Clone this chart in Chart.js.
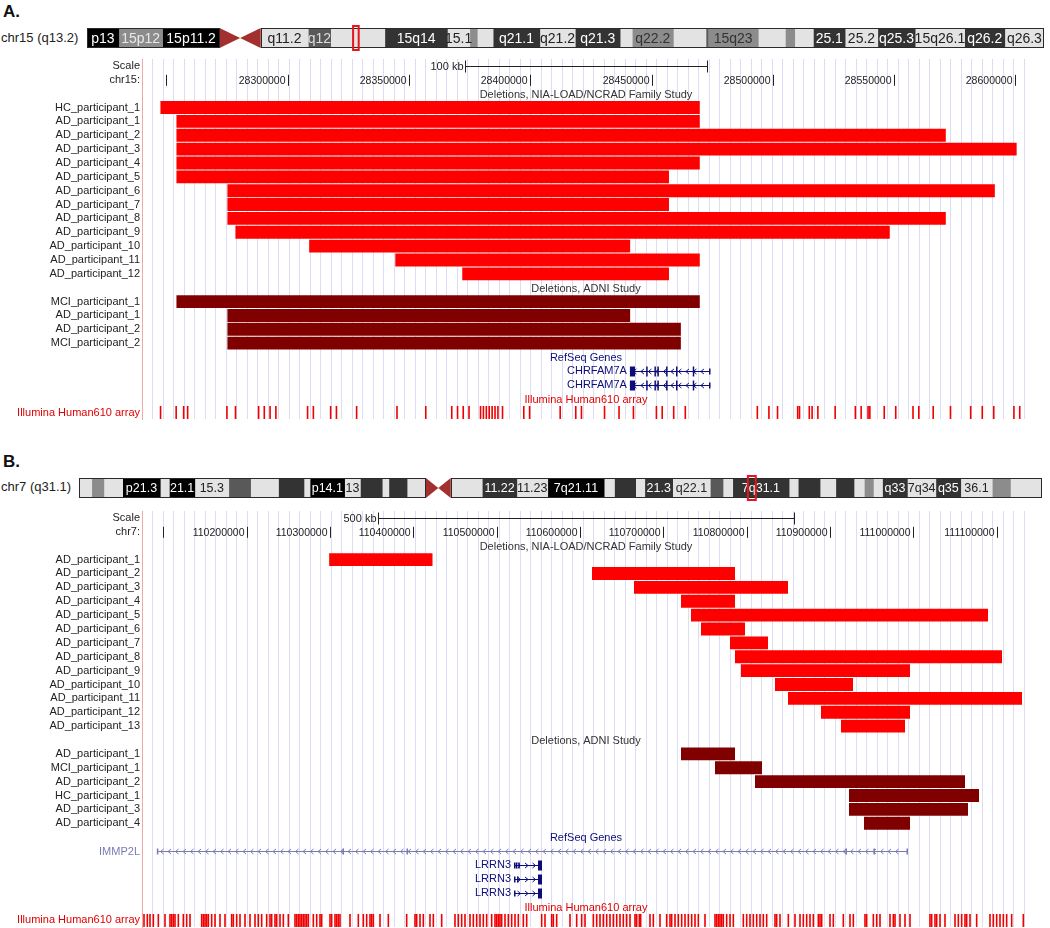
<!DOCTYPE html>
<html>
<head>
<meta charset="utf-8">
<title>Deletions at 15q13.2 and 7q31.1</title>
<script src="https://cdn.jsdelivr.net/npm/chart.js@4.4.1/dist/chart.umd.min.js"></script>
<style>
  html, body { margin: 0; padding: 0; background: #fff; }
  body { position: relative; width: 1050px; height: 928px; overflow: hidden; font-family: "Liberation Sans", Arial, sans-serif; color: #111; }
  .tag { position: absolute; left: 3px; font-weight: bold; font-size: 17px; line-height: 17px; }
  .chrom { position: absolute; left: 1px; font-size: 13px; line-height: 14px; color: #222; }
  canvas { position: absolute; left: 0; }
</style>
</head>
<body>
<div class="tag" style="top:3px">A.</div>
<div class="chrom" style="top:31px">chr15 (q13.2)</div>
<canvas id="ideoA" width="1050" height="30" style="top:24px"></canvas>
<canvas id="trackA" width="1050" height="380" style="top:48px"></canvas>

<div class="tag" style="top:453px">B.</div>
<div class="chrom" style="top:480px">chr7 (q31.1)</div>
<canvas id="ideoB" width="1050" height="30" style="top:474px"></canvas>
<canvas id="trackB" width="1050" height="436" style="top:500px"></canvas>

<script>
const FONT = '"Liberation Sans", Arial, sans-serif';

const familyTitle = 'Deletions, NIA-LOAD/NCRAD Family Study';
const adniTitle = 'Deletions, ADNI Study';
const geneTitle = 'RefSeq Genes';
const probeTitle = 'Illumina Human610 array';

// ---------- panel A : chr15 ----------
// ideogram bands in Mb: start, end, name, stain
const chr15Bands = [
  [0, 3.4, 'p13', 'gpos100'], [3.4, 8.1, '15p12', 'stalk'], [8.1, 14.2, '15p11.2', 'gpos100'],
  [14.2, 18.6, '', 'acen'], [18.6, 23.7, 'q11.2', 'gneg'], [23.7, 26.1, 'q12', 'gpos50'],
  [26.1, 31.9, '', 'gneg'], [31.9, 38.6, '15q14', 'gpos75'], [38.6, 41.0, '15.1', 'gneg'],
  [41.0, 41.8, '', 'gpos25'], [41.8, 43.5, '', 'gneg'], [43.5, 48.5, 'q21.1', 'gpos75'],
  [48.5, 52.3, 'q21.2', 'gneg'], [52.3, 57.1, 'q21.3', 'gpos75'], [57.1, 58.4, '', 'gneg'],
  [58.4, 62.8, 'q22.2', 'gpos25'], [62.8, 66.3, '', 'gneg'], [66.3, 66.5, '', 'gpos50'],
  [66.5, 71.9, '15q23', 'gpos25'], [71.9, 74.8, '', 'gneg'], [74.8, 75.8, '', 'gpos25'],
  [75.8, 77.8, '', 'gneg'], [77.8, 81.2, '25.1', 'gpos75'], [81.2, 84.7, '25.2', 'gneg'],
  [84.7, 88.7, 'q25.3', 'gpos75'], [88.7, 94.0, '15q26.1', 'gneg'], [94.0, 98.3, 'q26.2', 'gpos75'],
  [98.3, 102.5, 'q26.3', 'gneg']
];
const chr15Length = 102.5;
const chr15Mark = [28.5, 29.1];

const chr15View = [28240000, 28606000];
const chr15Ruler = [28250000, 28300000, 28350000, 28400000, 28450000, 28500000, 28550000, 28600000];
const chr15ScaleKb = 100;

const chr15FamNames = ['HC_participant_1', 'AD_participant_1', 'AD_participant_2', 'AD_participant_3',
  'AD_participant_4', 'AD_participant_5', 'AD_participant_6', 'AD_participant_7', 'AD_participant_8',
  'AD_participant_9', 'AD_participant_10', 'AD_participant_11', 'AD_participant_12'];
const chr15FamStart = [28247600, 28254200, 28254200, 28254200, 28254200, 28254200, 28275200, 28275200,
  28275200, 28278500, 28308900, 28344400, 28372000];
const chr15FamEnd = [28469900, 28469900, 28571300, 28600500, 28469900, 28457200, 28591500, 28457200,
  28571300, 28548200, 28441200, 28469900, 28457200];

const chr15AdniNames = ['MCI_participant_1', 'AD_participant_1', 'AD_participant_2', 'MCI_participant_2'];
const chr15AdniStart = [28254200, 28275200, 28275200, 28275200];
const chr15AdniEnd = [28469900, 28441200, 28462100, 28462100];

const chr15Genes = [
  { name: 'CHRFAM7A', strand: '-', status: 'reviewed', txStart: 28441100, txEnd: 28474100, thick: [28441100, 28467500],
    exons: [[28441100, 28443200], [28447800, 28448300], [28451200, 28451700], [28452400, 28452900],
            [28456000, 28456500], [28460100, 28460600], [28467000, 28467500], [28473700, 28474100]] },
  { name: 'CHRFAM7A', strand: '-', status: 'reviewed', txStart: 28441100, txEnd: 28474100, thick: [28441100, 28467500],
    exons: [[28441100, 28443200], [28447800, 28448300], [28451200, 28451700], [28452400, 28452900],
            [28456000, 28456500], [28460100, 28460600], [28467000, 28467500], [28473700, 28474100]] }
];

const chr15Probes = [28247650, 28254080, 28257170, 28258810, 28275000, 28278540, 28288060, 28290400,
  28292790, 28295180, 28308240, 28310630, 28317750, 28320140, 28328460, 28345100, 28356960, 28367670,
  28370060, 28372400, 28374790, 28379530, 28380720, 28381920, 28383110, 28384310, 28385500, 28386700,
  28388590, 28397360, 28399750, 28412360, 28418780, 28421130, 28430640, 28436610, 28442550, 28452020,
  28454410, 28459140, 28463920, 28493620, 28498390, 28501940, 28510250, 28511000, 28515030, 28516190,
  28518570, 28525700, 28534020, 28536410, 28539250, 28539990, 28545920, 28550660, 28557780, 28560170,
  28566100, 28573230, 28581550, 28586330, 28591060, 28599380, 28601770];

// ---------- panel B : chr7 ----------
const chr7Bands = [
  [0, 2.1, '', 'gneg'], [2.1, 4.1, '', 'gpos25'], [4.1, 7.2, '', 'gneg'], [7.2, 13.4, 'p21.3', 'gpos100'],
  [13.4, 14.9, '', 'gneg'], [14.9, 19.1, '21.1', 'gpos100'], [19.1, 24.7, '15.3', 'gneg'],
  [24.7, 28.3, '', 'gpos50'], [28.3, 32.9, '', 'gneg'], [32.9, 37.1, '', 'gpos75'], [37.1, 38.1, '', 'gneg'],
  [38.1, 43.8, 'p14.1', 'gpos100'], [43.8, 46.4, '13', 'gneg'], [46.4, 50.0, '', 'gpos75'],
  [50.0, 51.1, '', 'gneg'], [51.1, 54.1, '', 'gpos75'], [54.1, 57.2, '', 'gneg'], [57.2, 61.3, '', 'acen'],
  [61.3, 66.5, '', 'gneg'], [66.5, 72.2, '11.22', 'gpos75'], [72.2, 77.3, '11.23', 'gneg'],
  [77.3, 86.6, '7q21.11', 'gpos100'], [86.6, 88.3, '', 'gneg'], [88.3, 91.8, '', 'gpos75'],
  [91.8, 93.3, '', 'gneg'], [93.3, 97.9, '21.3', 'gpos75'], [97.9, 104.1, 'q22.1', 'gneg'],
  [104.1, 106.2, '', 'gpos50'], [106.2, 107.8, '', 'gneg'], [107.8, 117.1, '7q31.1', 'gpos75'],
  [117.1, 118.6, '', 'gneg'], [118.6, 122.2, '', 'gpos75'], [122.2, 124.8, '', 'gneg'],
  [124.8, 127.8, '', 'gpos75'], [127.8, 129.5, '', 'gneg'], [129.5, 131.0, '', 'gpos25'],
  [131.0, 132.5, '', 'gneg'], [132.5, 136.6, 'q33', 'gpos75'], [136.6, 141.3, '7q34', 'gneg'],
  [141.3, 145.4, 'q35', 'gpos75'], [145.4, 150.6, '36.1', 'gneg'], [150.6, 153.6, '', 'gpos25'],
  [153.6, 158.8, '', 'gneg']
];
const chr7Length = 158.8;
const chr7Mark = [110.3, 111.6];

const chr7View = [110074400, 111140000];
const chr7Ruler = [110100000, 110200000, 110300000, 110400000, 110500000, 110600000, 110700000,
  110800000, 110900000, 111000000, 111100000];
const chr7ScaleKb = 500;

const chr7FamNames = ['AD_participant_1', 'AD_participant_2', 'AD_participant_3', 'AD_participant_4',
  'AD_participant_5', 'AD_participant_6', 'AD_participant_7', 'AD_participant_8', 'AD_participant_9',
  'AD_participant_10', 'AD_participant_11', 'AD_participant_12', 'AD_participant_13'];
const chr7FamStart = [110299000, 110614400, 110664800, 110721200, 110733200, 110745200, 110780000,
  110786000, 110793200, 110834000, 110849600, 110889200, 110913200];
const chr7FamEnd = [110423000, 110786000, 110849600, 110786000, 111089600, 110798000, 110825600,
  111106400, 110996000, 110927600, 111130400, 110996000, 110990000];

const chr7AdniNames = ['AD_participant_1', 'MCI_participant_1', 'AD_participant_2', 'HC_participant_1',
  'AD_participant_3', 'AD_participant_4'];
const chr7AdniStart = [110721200, 110762000, 110810000, 110922800, 110922800, 110940800];
const chr7AdniEnd = [110786000, 110818400, 111062000, 111078800, 111065600, 110996000];

const chr7Genes = [
  { name: 'IMMP2L', strand: '-', status: 'predicted', txStart: 110092400, txEnd: 110992400, thick: [110092400, 110992400],
    exons: [[110092200, 110093000], [110315000, 110316200], [110391800, 110393000], [110918600, 110919800],
            [110952200, 110953400], [110991800, 110992400]] },
  { name: 'LRRN3', strand: '+', status: 'reviewed', txStart: 110520800, txEnd: 110554400, thick: [110549600, 110554400],
    exons: [[110520800, 110521300], [110523000, 110523500], [110526000, 110526400], [110549600, 110554400]] },
  { name: 'LRRN3', strand: '+', status: 'reviewed', txStart: 110520800, txEnd: 110554400, thick: [110549600, 110554400],
    exons: [[110520800, 110521300], [110524500, 110525000], [110549600, 110554400]] },
  { name: 'LRRN3', strand: '+', status: 'reviewed', txStart: 110520800, txEnd: 110554400, thick: [110549600, 110554400],
    exons: [[110520800, 110521300], [110549600, 110554400]] }
];

const chr7Probes = [110076800, 110080800, 110084000, 110088000, 110094000, 110102000, 110108000, 110110000,
  110112000, 110114000, 110118000, 110124000, 110128000, 110132000, 110146000, 110148000, 110150000,
  110152000, 110154000, 110158000, 110162000, 110168000, 110174000, 110182000, 110184000, 110188000,
  110192000, 110198000, 110204000, 110210000, 110214000, 110218000, 110224000, 110228000, 110230000,
  110234000, 110236000, 110240000, 110244000, 110250000, 110258000, 110260000, 110262000, 110264000,
  110266000, 110268000, 110270000, 110272000, 110274000, 110280000, 110284000, 110288000, 110290000,
  110300000, 110302000, 110306000, 110308000, 110310000, 110312000, 110324000, 110334000, 110340000,
  110344000, 110348000, 110350000, 110352000, 110360000, 110370000, 110392000, 110402000, 110404000,
  110408000, 110412000, 110420000, 110424000, 110434000, 110450000, 110454000, 110458000, 110462000,
  110468000, 110472000, 110476000, 110480000, 110484000, 110488000, 110494000, 110498000, 110500000,
  110502000, 110504000, 110506000, 110510000, 110514000, 110518000, 110522000, 110526000, 110532000,
  110536000, 110554000, 110558000, 110566000, 110568000, 110572000, 110588000, 110596000, 110602000,
  110606000, 110616000, 110620000, 110624000, 110628000, 110632000, 110636000, 110640000, 110644000,
  110648000, 110652000, 110656000, 110660000, 110666000, 110668000, 110671200, 110672800, 110684000,
  110688000, 110696000, 110704000, 110708000, 110710000, 110714000, 110718000, 110722000, 110726000,
  110730000, 110734000, 110738000, 110742000, 110750000, 110762000, 110764000, 110766000, 110768000,
  110770000, 110772000, 110776000, 110780000, 110784000, 110796000, 110800000, 110804000, 110808000,
  110812000, 110816000, 110820000, 110824000, 110834000, 110836000, 110840000, 110850000, 110858000,
  110864000, 110868000, 110872000, 110876000, 110880000, 110886000, 110888000, 110890000, 110900000,
  110904000, 110916000, 110924000, 110928000, 110942000, 110944000, 110952000, 110956000, 110960000,
  110972000, 110976000, 110978000, 110984000, 110990000, 110996000, 111020000, 111022000, 111026000,
  111028000, 111032000, 111038000, 111050000, 111054000, 111058000, 111062000, 111064000, 111068000,
  111076000, 111092000, 111096000, 111100000, 111104000, 111108000, 111112000, 111118000, 111132000];

// ---------- styles ----------
const STAIN = {
  gneg: ['#e3e3e3', '#222'],
  gpos25: ['#8c8c8c', '#333'],
  stalk: ['#8c8c8c', '#e8e8e8'],
  gpos50: ['#595959', '#dddddd'],
  gpos75: ['#333333', '#ffffff'],
  gpos100: ['#000000', '#ffffff']
};
const GENE_COLOR = { reviewed: '#0d0d7a', predicted: '#7b7bb4' };
const FAM_RED = '#ff0000';
const ADNI_RED = '#800000';
const PROBE_RED = '#f00000';

// ---------- ideogram ----------
const ideoPlugin = {
  id: 'ideo',
  afterDatasetsDraw(chart, args, o) {
    const { ctx, chartArea: a, scales: { x } } = chart;
    const top = a.top, bot = a.bottom, mid = (top + bot) / 2;
    const cen = o.bands.find(b => b[3] === 'acen');
    const c0 = x.getPixelForValue(cen[0]), c1 = x.getPixelForValue(cen[1]), cm = (c0 + c1) / 2;
    const x0 = x.getPixelForValue(0), x1 = x.getPixelForValue(o.length);
    ctx.save();
    ctx.fillStyle = '#a3302e';
    ctx.beginPath();
    ctx.moveTo(c0, top); ctx.lineTo(cm, mid); ctx.lineTo(c0, bot); ctx.closePath(); ctx.fill();
    ctx.beginPath();
    ctx.moveTo(c1, top); ctx.lineTo(cm, mid); ctx.lineTo(c1, bot); ctx.closePath(); ctx.fill();

    ctx.strokeStyle = '#2a2a2a';
    ctx.lineWidth = 1;
    ctx.strokeRect(Math.round(x0) + 0.5, top + 0.5, Math.round(c0 - x0) - 1, bot - top - 1);
    ctx.strokeRect(Math.round(c1) + 0.5, top + 0.5, Math.round(x1 - c1) - 1, bot - top - 1);

    ctx.font = o.fontSize + 'px ' + FONT;
    ctx.textAlign = 'center';
    ctx.textBaseline = 'middle';
    o.bands.forEach(b => {
      if (!b[2]) return;
      ctx.fillStyle = STAIN[b[3]][1];
      ctx.fillText(b[2], (x.getPixelForValue(b[0]) + x.getPixelForValue(b[1])) / 2, mid + 1);
    });

    const m0 = x.getPixelForValue(o.mark[0]), m1 = x.getPixelForValue(o.mark[1]);
    ctx.strokeStyle = '#e8141c';
    ctx.lineWidth = 2;
    ctx.strokeRect(m0, top - 2, m1 - m0, bot - top + 4);
    ctx.restore();
  }
};

function drawIdeogram(id, bands, length, mark, padLeft, padRight, fontSize) {
  const datasets = bands.filter(b => b[3] !== 'acen').map(b => ({
    data: [[b[0], b[1]]],
    backgroundColor: STAIN[b[3]][0],
    borderWidth: 0,
    grouped: false,
    barPercentage: 1,
    categoryPercentage: 1
  }));
  new Chart(document.getElementById(id), {
    type: 'bar',
    data: { labels: [''], datasets },
    options: {
      indexAxis: 'y',
      responsive: false,
      animation: false,
      events: [],
      devicePixelRatio: 1,
      layout: { padding: { left: padLeft, right: padRight, top: 4, bottom: 6 } },
      plugins: { legend: { display: false }, tooltip: { enabled: false },
        ideo: { bands, length, mark, fontSize } },
      scales: {
        x: { type: 'linear', min: 0, max: length, display: false },
        y: { display: false }
      }
    },
    plugins: [ideoPlugin]
  });
}

// ---------- track panel ----------
function drawGene(ctx, x, yc, g, area) {
  const px = v => x.getPixelForValue(v);
  const color = GENE_COLOR[g.status];
  const s = px(g.txStart), e = px(g.txEnd);
  const yl = Math.round(yc) + 0.5;
  ctx.strokeStyle = color;
  ctx.fillStyle = color;
  ctx.lineWidth = 1;
  ctx.beginPath(); ctx.moveTo(s, yl); ctx.lineTo(e, yl); ctx.stroke();
  const dir = g.strand === '-' ? -1 : 1;
  for (let p = s + 5; p < e - 3; p += 7.5) {
    ctx.beginPath();
    ctx.moveTo(p - dir * 1.5, yl - 2.5); ctx.lineTo(p + dir * 1.5, yl); ctx.lineTo(p - dir * 1.5, yl + 2.5);
    ctx.stroke();
  }
  g.exons.forEach(([a, b]) => {
    const tall = a < g.thick[1] && b > g.thick[0] && g.status === 'reviewed';
    const h = tall ? 10 : 6;
    const x0 = px(a);
    ctx.fillRect(x0, yl - h / 2, Math.max(1.5, px(b) - x0), h);
  });
  ctx.font = '11px ' + FONT;
  ctx.textAlign = 'right';
  ctx.textBaseline = 'middle';
  const w = ctx.measureText(g.name).width;
  const lx = (s - 3 - w < area.left) ? area.left - 2 : s - 3;
  ctx.fillText(g.name, lx, yc + 0.5);
}

const tracksPlugin = {
  id: 'tracks',
  afterDatasetsDraw(chart, args, o) {
    const { ctx, chartArea: area, scales: { x, y } } = chart;
    const rowY = i => y.getPixelForValue(i);
    const R = o.rows;
    ctx.save();

    // scale bar, centred in the window
    const mid = (x.min + x.max) / 2, half = o.scaleKb * 500;
    const b0 = Math.round(x.getPixelForValue(mid - half)) + 0.5;
    const b1 = Math.round(x.getPixelForValue(mid + half)) + 0.5;
    const ys = Math.round(rowY(R.scale)) + 0.5;
    ctx.strokeStyle = '#222';
    ctx.fillStyle = '#222';
    ctx.lineWidth = 1;
    ctx.beginPath();
    ctx.moveTo(b0, ys); ctx.lineTo(b1, ys);
    ctx.moveTo(b0, ys - 6); ctx.lineTo(b0, ys + 6);
    ctx.moveTo(b1, ys - 6); ctx.lineTo(b1, ys + 6);
    ctx.stroke();
    ctx.font = '11px ' + FONT;
    ctx.textAlign = 'right';
    ctx.textBaseline = 'middle';
    ctx.fillText(o.scaleKb + ' kb', b0 - 2, ys);

    // ruler
    const yr = rowY(R.ruler);
    ctx.font = '10.5px ' + FONT;
    o.ruler.forEach(v => {
      const p = Math.round(x.getPixelForValue(v)) + 0.5;
      ctx.beginPath(); ctx.moveTo(p, yr - 5); ctx.lineTo(p, yr + 6); ctx.stroke();
      const label = String(v);
      if (p - 3 - ctx.measureText(label).width >= area.left) ctx.fillText(label, p - 3, yr + 1);
    });

    // track titles
    const cx = (area.left + area.right) / 2;
    ctx.font = '11px ' + FONT;
    ctx.textAlign = 'center';
    o.titles.forEach(t => {
      ctx.fillStyle = t.color;
      ctx.fillText(t.text, cx, rowY(t.row) + 1);
    });

    // genes
    o.genes.forEach((g, i) => drawGene(ctx, x, rowY(R.genes[i]), g, area));

    // array probes
    const yp = rowY(R.probes);
    ctx.fillStyle = PROBE_RED;
    o.probes.forEach(v => {
      ctx.fillRect(x.getPixelForValue(v) - 0.8, yp - 6.5, 1.6, 13);
    });
    ctx.restore();
  }
};

function drawTrack(id, p) {
  const labels = ['Scale', p.chrom + ':'];
  const R = { scale: 0, ruler: 1 };
  R.famTitle = labels.push('') - 1;
  R.fam = p.famNames.map(n => labels.push(n) - 1);
  R.adniTitle = labels.push('') - 1;
  R.adni = p.adniNames.map(n => labels.push(n) - 1);
  R.geneTitle = labels.push('') - 1;
  R.genes = p.genes.map(() => labels.push('') - 1);
  R.probeTitle = labels.push('') - 1;
  R.probes = labels.push(probeTitle) - 1;

  const famData = labels.map(() => null);
  const adniData = labels.map(() => null);
  R.fam.forEach((r, i) => { famData[r] = [p.famStart[i], p.famEnd[i]]; });
  R.adni.forEach((r, i) => { adniData[r] = [p.adniStart[i], p.adniEnd[i]]; });

  const bar = { borderWidth: 0, grouped: false, barPercentage: 1, categoryPercentage: 0.93 };
  new Chart(document.getElementById(id), {
    type: 'bar',
    data: {
      labels,
      datasets: [
        Object.assign({ label: familyTitle, data: famData, backgroundColor: FAM_RED }, bar),
        Object.assign({ label: adniTitle, data: adniData, backgroundColor: ADNI_RED }, bar)
      ]
    },
    options: {
      indexAxis: 'y',
      responsive: false,
      animation: false,
      events: [],
      devicePixelRatio: 1,
      layout: { padding: { left: 0, right: 20, top: p.padTop, bottom: p.padBottom } },
      plugins: {
        legend: { display: false },
        tooltip: { enabled: false },
        tracks: {
          rows: R, scaleKb: p.scaleKb, ruler: p.ruler, genes: p.genes, probes: p.probes,
          titles: [
            { text: familyTitle, row: R.famTitle, color: '#333' },
            { text: adniTitle, row: R.adniTitle, color: '#333' },
            { text: geneTitle, row: R.geneTitle, color: GENE_COLOR.reviewed },
            { text: probeTitle, row: R.probeTitle, color: '#e00000' }
          ]
        }
      },
      scales: {
        x: {
          type: 'linear', min: p.view[0], max: p.view[1],
          ticks: { display: false },
          grid: { color: '#dcdcf2', lineWidth: 1, drawTicks: false },
          border: { display: false },
          afterBuildTicks: s => {
            const t = [];
            for (let v = s.min + p.gridStep; v < s.max; v += p.gridStep) t.push({ value: v });
            s.ticks = t;
          },
          afterFit: s => { s.height = 0; }
        },
        y: {
          type: 'category',
          grid: { display: false, drawTicks: false },
          border: { display: true, color: '#f2a7a7', width: 1 },
          ticks: {
            autoSkip: false,
            padding: 2,
            font: { family: FONT, size: 11 },
            color: c => c.index === R.probes ? '#e00000' : '#222'
          },
          afterFit: s => { s.width = 142; }
        }
      }
    },
    plugins: [tracksPlugin]
  });
}

drawIdeogram('ideoA', chr15Bands, chr15Length, chr15Mark, 87, 6, 14);
drawIdeogram('ideoB', chr7Bands, chr7Length, chr7Mark, 79, 8, 12.5);

drawTrack('trackA', {
  chrom: 'chr15', view: chr15View, ruler: chr15Ruler, scaleKb: chr15ScaleKb, gridStep: 4328,
  famNames: chr15FamNames, famStart: chr15FamStart, famEnd: chr15FamEnd,
  adniNames: chr15AdniNames, adniStart: chr15AdniStart, adniEnd: chr15AdniEnd,
  genes: chr15Genes, probes: chr15Probes, padTop: 11, padBottom: 4
});
drawTrack('trackB', {
  chrom: 'chr7', view: chr7View, ruler: chr7Ruler, scaleKb: chr7ScaleKb, gridStep: 12600,
  famNames: chr7FamNames, famStart: chr7FamStart, famEnd: chr7FamEnd,
  adniNames: chr7AdniNames, adniStart: chr7AdniStart, adniEnd: chr7AdniEnd,
  genes: chr7Genes, probes: chr7Probes, padTop: 11, padBottom: 1
});
</script>
</body>
</html>
